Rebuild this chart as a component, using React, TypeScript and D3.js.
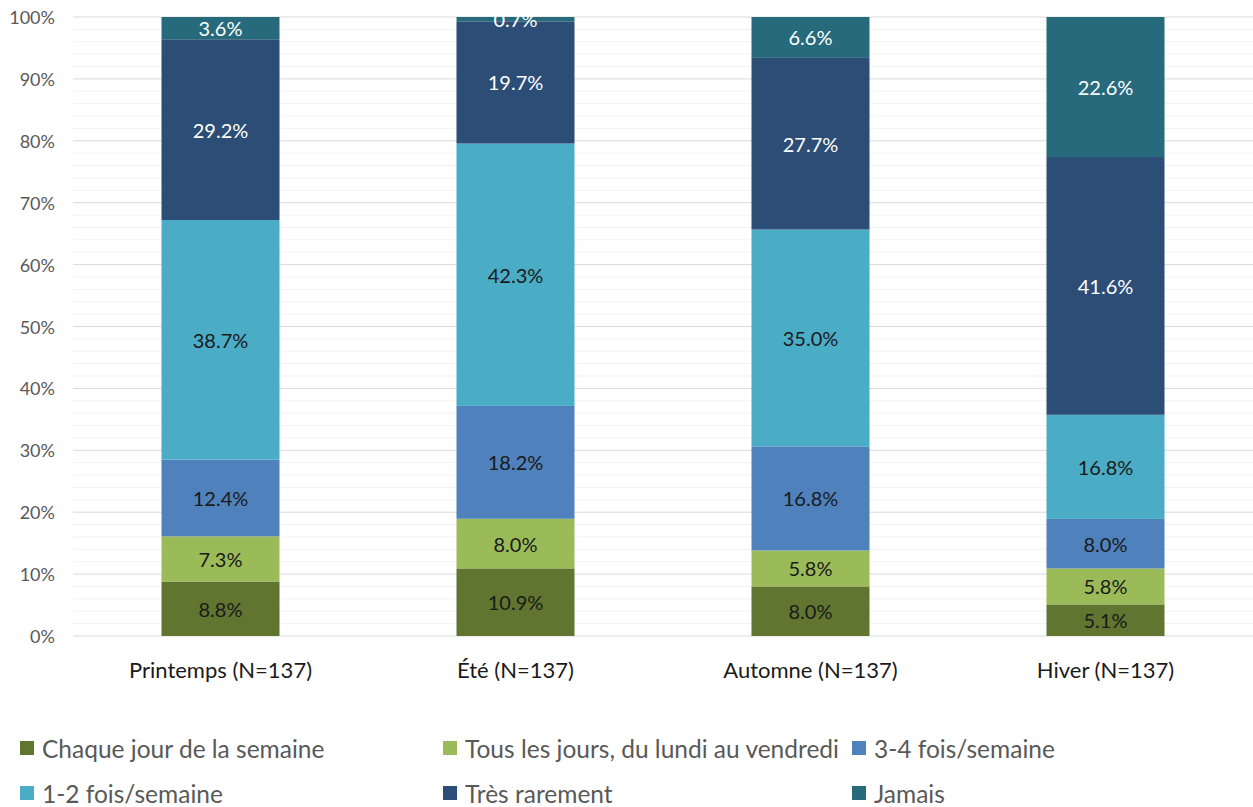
import React from "react";
import * as d3 from "d3";

const categories = ["Printemps (N=137)", "Été (N=137)", "Automne (N=137)", "Hiver (N=137)"];
const seriesNames = [
  "Chaque jour de la semaine",
  "Tous les jours, du lundi au vendredi",
  "3-4 fois/semaine",
  "1-2 fois/semaine",
  "Très rarement",
  "Jamais",
];
const chaqueJour = [8.8, 10.9, 8.0, 5.1];
const tousLesJours = [7.3, 8.0, 5.8, 5.8];
const troisQuatre = [12.4, 18.2, 16.8, 8.0];
const unDeux = [38.7, 42.3, 35.0, 16.8];
const tresRarement = [29.2, 19.7, 27.7, 41.6];
const jamais = [3.6, 0.7, 6.6, 22.6];
const seriesValues = [chaqueJour, tousLesJours, troisQuatre, unDeux, tresRarement, jamais];
const yTicks = [0, 10, 20, 30, 40, 50, 60, 70, 80, 90, 100];

const colors = ["#5F7530", "#9BBB59", "#4F81BD", "#4BACC6", "#2C4D75", "#276A7C"];
const labelColors = ["#1a1a1a", "#1a1a1a", "#1a1a1a", "#1a1a1a", "#ffffff", "#ffffff"];

const W = 1253;
const H = 807;
const left = 73;
const right = 1253;
const top = 17;
const bottom = 636;
const font = "Lato, 'Open Sans', sans-serif";

export default function App() {
  const x = d3.scaleBand<string>().domain(categories).range([left, right]).paddingInner(0.6).paddingOuter(0.3);
  const y = d3.scaleLinear().domain([0, 100]).range([bottom, top]);
  const minorTicks = d3.range(0, 101, 2).filter((v) => v % 10 !== 0);

  const rows = categories.map((c, i) => {
    const vals = seriesValues.map((s) => s[i]);
    const total = d3.sum(vals);
    const obj: any = { cat: c };
    vals.forEach((v, k) => (obj["s" + k] = (v / total) * 100));
    return obj;
  });
  const stack = d3.stack<any>().keys(seriesNames.map((_, k) => "s" + k));
  const stacked = stack(rows);

  const legendCols = [20, 443, 852];
  const legendRows = [748, 793];

  return (
    <svg width={W} height={H} style={{ display: "block", position: "absolute", left: 0, top: 0, background: "#fff" }}>
      {minorTicks.map((t) => (
        <line key={"m" + t} x1={left} x2={right} y1={y(t)} y2={y(t)} stroke="#f2f2f2" strokeWidth={1} />
      ))}
      {yTicks.map((t) => (
        <line key={"g" + t} x1={left} x2={right} y1={y(t)} y2={y(t)} stroke="#d9d9d9" strokeWidth={1} />
      ))}
      {yTicks.map((t) => (
        <text key={"t" + t} x={55} y={y(t)} textAnchor="end" dominantBaseline="central" fontFamily={font} fontSize={18} fill="#595959">
          {t}%
        </text>
      ))}
      {stacked.map((layer, k) =>
        layer.map((d, i) => {
          const x0 = x(categories[i])!;
          const y0 = y(d[1]);
          const h = y(d[0]) - y(d[1]);
          return <rect key={k + "-" + i} x={x0} y={y0} width={x.bandwidth()} height={h} fill={colors[k]} />;
        })
      )}
      {stacked.map((layer, k) =>
        layer.map((d, i) => {
          const cx = x(categories[i])! + x.bandwidth() / 2;
          const cy = (y(d[0]) + y(d[1])) / 2;
          return (
            <text key={"l" + k + "-" + i} x={cx} y={cy} textAnchor="middle" dominantBaseline="central" fontFamily={font} fontSize={20} fill={labelColors[k]}>
              {seriesValues[k][i].toFixed(1)}%
            </text>
          );
        })
      )}
      {categories.map((c) => (
        <text key={c} x={x(c)! + x.bandwidth() / 2} y={669} textAnchor="middle" dominantBaseline="central" fontFamily={font} fontSize={22} fill="#1a1a1a">
          {c}
        </text>
      ))}
      {seriesNames.map((n, k) => {
        const lx = legendCols[k % 3];
        const ly = legendRows[Math.floor(k / 3)];
        return (
          <g key={n}>
            <rect x={lx} y={ly - 7} width={14} height={14} fill={colors[k]} />
            <text x={lx + 22} y={ly} dominantBaseline="central" fontFamily={font} fontSize={24.5} fill="#595959">
              {n}
            </text>
          </g>
        );
      })}
    </svg>
  );
}
